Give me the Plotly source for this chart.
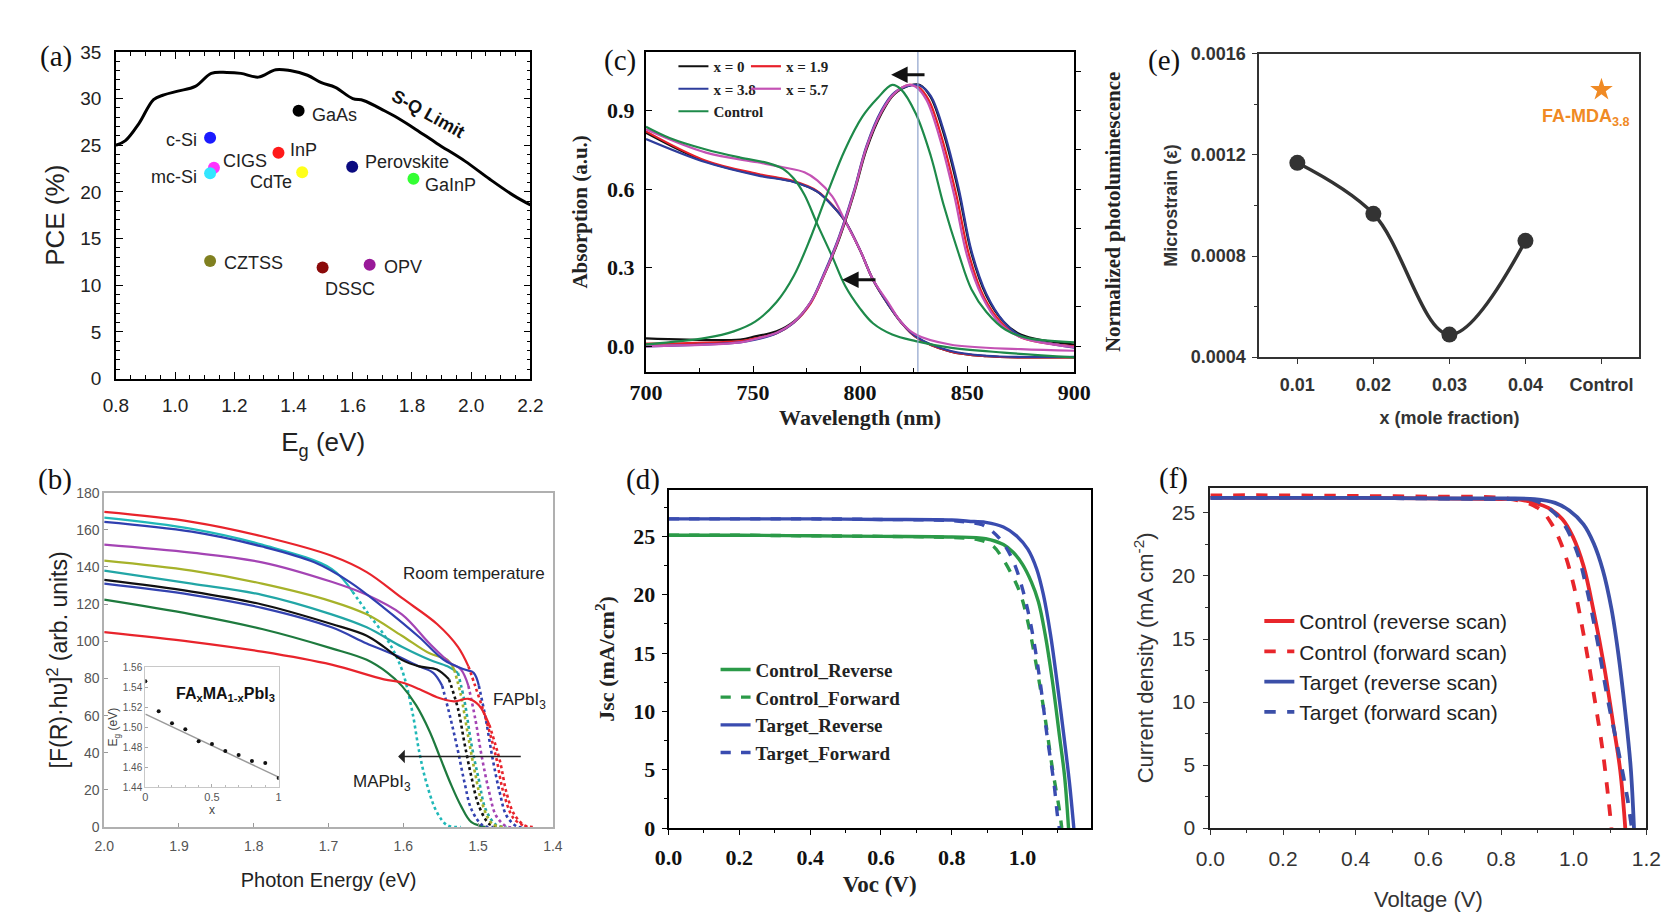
import plotly.graph_objects as go

W, H = 1680, 921

# ---------------- (a) data ----------------
sq_eg = [0.80, 0.832, 0.879, 0.927, 0.962, 1.009, 1.068, 1.122, 1.175, 1.222, 1.281, 1.340, 1.388, 1.447,
         1.494, 1.541, 1.600, 1.636, 1.707, 1.742, 1.813, 1.884, 1.979, 2.061, 2.144, 2.20]
sq_pce = [25.0, 25.5, 27.4, 29.9, 30.4, 30.8, 31.3, 32.7, 32.8, 32.7, 32.3, 33.1, 33.0, 32.5,
          31.7, 31.2, 30.0, 29.8, 28.7, 28.1, 26.7, 25.2, 23.3, 21.4, 19.6, 18.6]
mat_names = ["c-Si", "GaAs", "InP", "CIGS", "mc-Si", "CdTe", "Perovskite", "GaInP", "CZTSS", "DSSC", "OPV"]
mat_eg = [1.118, 1.417, 1.349, 1.131, 1.118, 1.429, 1.598, 1.805, 1.118, 1.498, 1.657]
mat_pce = [25.8, 28.7, 24.2, 22.6, 22.0, 22.1, 22.7, 21.4, 12.6, 11.9, 12.2]
mat_colors = ["#1a1aff", "#000000", "#ff1a1a", "#ff33ff", "#33e6ff", "#ffff1a", "#0a0a80", "#33ff33",
              "#808020", "#8b0a0a", "#991a99"]
# label placement (anchor, xshift, yshift)
mat_lab_pos = [("right", -11, -2), ("left", 11, -4), ("left", 10, 3), ("left", 7, 7), ("right", -11, -4),
               ("right", -8, -10), ("left", 11, 5), ("left", 10, -6), ("left", 12, -2), ("center", 27, -21),
               ("left", 12, -2)]

# ---------------- (b) data ----------------
b_colors = ["#20b8b8", "#1e7a3e", "#3342b0", "#111111", "#22a6a6", "#a6b22a", "#a444b4", "#2f3fb0",
            "#e8242c", "#e8242c"]
b_x1 = [2.0, 1.883, 1.789, 1.696, 1.668, 1.649, 1.621, 1.602, 1.588, 1.579, 1.569, 1.555, 1.541, 1.523]
b_y1 = [166.5, 160.5, 152.0, 139.0, 126.7, 116.0, 100.5, 84.8, 62.0, 41.0, 23.6, 7.9, 0.9, 0.0]
b_x2 = [2.0, 1.883, 1.789, 1.696, 1.649, 1.621, 1.602, 1.583, 1.565, 1.551, 1.537, 1.523, 1.509, 1.49]
b_y2 = [122.4, 114.5, 106.6, 96.2, 90.0, 83.0, 76.0, 65.6, 51.6, 37.6, 23.6, 11.4, 2.6, 0.0]
b_x3 = [2.0, 1.883, 1.789, 1.696, 1.649, 1.612, 1.579, 1.560, 1.548, 1.537, 1.527, 1.518, 1.509, 1.494, 1.48]
b_y3 = [131.0, 125.0, 118.0, 107.5, 98.8, 92.7, 86.5, 83.0, 76.0, 58.6, 41.0, 23.6, 9.6, 0.9, 0.0]
b_x4 = [2.0, 1.883, 1.789, 1.696, 1.649, 1.626, 1.602, 1.579, 1.555, 1.539, 1.527, 1.518, 1.509, 1.499, 1.485, 1.471]
b_y4 = [133.0, 126.7, 119.8, 109.3, 103.0, 97.0, 90.0, 86.5, 84.8, 79.5, 63.8, 44.6, 27.0, 11.4, 1.7, 0.0]
b_x5 = [2.0, 1.883, 1.789, 1.696, 1.649, 1.602, 1.565, 1.541, 1.527, 1.518, 1.509, 1.499, 1.490, 1.476, 1.462]
b_y5 = [138.0, 131.0, 125.0, 114.5, 107.5, 97.0, 90.0, 86.5, 83.0, 67.3, 44.6, 25.3, 9.6, 1.2, 0.0]
b_x6 = [2.0, 1.883, 1.789, 1.696, 1.649, 1.602, 1.565, 1.541, 1.532, 1.523, 1.513, 1.504, 1.495, 1.481, 1.466]
b_y6 = [143.4, 138.0, 131.0, 121.5, 114.5, 103.0, 93.5, 90.0, 84.8, 70.8, 48.0, 28.8, 13.1, 1.7, 0.0]
b_x7 = [2.0, 1.883, 1.789, 1.696, 1.649, 1.602, 1.565, 1.537, 1.523, 1.513, 1.504, 1.495, 1.485, 1.476, 1.462, 1.452]
b_y7 = [152.0, 147.7, 142.5, 132.0, 125.0, 114.5, 98.8, 88.3, 84.8, 76.0, 58.6, 37.6, 18.4, 6.1, 0.3, 0.0]
b_x8 = [2.0, 1.883, 1.789, 1.719, 1.672, 1.626, 1.579, 1.546, 1.518, 1.506, 1.499, 1.490, 1.481, 1.471, 1.462, 1.448, 1.438]
b_y8 = [164.3, 159.0, 151.0, 142.5, 132.0, 118.0, 102.3, 90.0, 84.8, 83.0, 76.0, 58.6, 37.6, 18.4, 6.1, 0.3, 0.0]
b_x9 = [2.0, 1.883, 1.789, 1.696, 1.649, 1.602, 1.555, 1.527, 1.513, 1.504, 1.490, 1.476, 1.466, 1.452, 1.434]
b_y9 = [169.6, 164.3, 156.5, 146.0, 137.2, 123.3, 109.3, 97.0, 86.5, 76.0, 58.6, 37.6, 18.4, 4.4, 0.0]
b_x10 = [2.0, 1.883, 1.789, 1.696, 1.626, 1.602, 1.579, 1.555, 1.532, 1.513, 1.499, 1.485, 1.471, 1.462, 1.452, 1.438, 1.424]
b_y10 = [104.9, 99.7, 94.4, 87.4, 79.5, 77.8, 74.3, 69.9, 67.7, 69.0, 65.6, 55.0, 35.8, 18.4, 7.0, 0.9, 0.0]
b_x_all = [b_x1, b_x2, b_x3, b_x4, b_x5, b_x6, b_x7, b_x8, b_x9, b_x10]
b_y_all = [b_y1, b_y2, b_y3, b_y4, b_y5, b_y6, b_y7, b_y8, b_y9, b_y10]
b_dot_from = [4, 99, 8, 9, 8, 8, 9, 10, 8, 11]   # index where the dotted drop begins
inset_x = [0.0, 0.1, 0.2, 0.3, 0.4, 0.5, 0.6, 0.7, 0.8, 0.9, 1.0]
inset_eg = [1.546, 1.516, 1.504, 1.498, 1.486, 1.483, 1.476, 1.472, 1.466, 1.464, 1.449]
inset_fit_x = [0.0, 1.0]
inset_fit_y = [1.513, 1.450]

# ---------------- (c) data ----------------
c_names = ["x = 0", "x = 1.9", "x = 3.8", "x = 5.7", "Control"]
c_colors = ["#111111", "#e8202a", "#2e3d9c", "#c452b4", "#1e8a4a"]
c_abs_wl = [[700, 728, 752, 769, 780, 788, 793, 800, 806, 813, 819, 826, 842, 859, 900],
            [700, 728, 752, 769, 780, 788, 793, 800, 806, 813, 819, 826, 842, 859, 900],
            [700, 728, 752, 769, 780, 788, 793, 800, 806, 813, 819, 826, 842, 859, 900],
            [700, 728, 752, 764, 774, 780, 787, 793, 800, 806, 813, 819, 826, 842, 875, 900],
            [700, 711, 728, 744, 757, 764, 769, 774, 780, 787, 793, 800, 806, 815, 826, 842, 867, 900]]
c_abs = [[0.815, 0.705, 0.655, 0.628, 0.590, 0.529, 0.477, 0.366, 0.254, 0.161, 0.093, 0.036, -0.020, -0.038, -0.042],
         [0.820, 0.708, 0.658, 0.630, 0.592, 0.530, 0.478, 0.367, 0.255, 0.162, 0.094, 0.036, -0.020, -0.038, -0.042],
         [0.791, 0.702, 0.652, 0.627, 0.590, 0.528, 0.478, 0.367, 0.255, 0.162, 0.094, 0.038, -0.017, -0.036, -0.040],
         [0.828, 0.739, 0.702, 0.683, 0.664, 0.633, 0.572, 0.478, 0.367, 0.255, 0.169, 0.094, 0.045, 0.007, -0.011, -0.017],
         [0.838, 0.795, 0.751, 0.720, 0.699, 0.677, 0.640, 0.578, 0.466, 0.342, 0.231, 0.144, 0.088, 0.045, 0.020, -0.005, -0.024, -0.042]]
c_pl_wl = [[700, 744, 751, 761, 769, 777, 783, 790, 797, 803, 810, 816, 824, 828, 833, 839, 846, 852, 859, 867, 875, 900],
           [700, 744, 751, 761, 769, 777, 783, 790, 797, 803, 810, 816, 823, 827, 832, 838, 845, 851, 858, 866, 875, 900],
           [700, 744, 751, 761, 769, 777, 783, 790, 797, 803, 810, 816, 825, 828, 833, 839, 846, 852, 859, 867, 875, 900],
           [700, 744, 751, 761, 769, 777, 783, 790, 797, 803, 810, 816, 823, 826, 831, 837, 844, 850, 857, 865, 875, 900],
           [700, 728, 741, 751, 761, 769, 777, 785, 793, 801, 808, 815, 819, 826, 833, 839, 846, 852, 859, 868, 878, 900]]
c_pl = [[0.030, 0.026, 0.038, 0.057, 0.094, 0.169, 0.268, 0.404, 0.578, 0.751, 0.888, 0.962, 0.997, 0.997, 0.950, 0.813, 0.590, 0.355, 0.193, 0.094, 0.045, 0.007],
        [0.010, 0.020, 0.030, 0.050, 0.090, 0.165, 0.270, 0.410, 0.585, 0.760, 0.895, 0.965, 0.997, 0.990, 0.940, 0.800, 0.575, 0.345, 0.185, 0.090, 0.035, 0.000],
        [0.000, 0.015, 0.025, 0.050, 0.090, 0.170, 0.275, 0.415, 0.590, 0.765, 0.900, 0.968, 0.997, 0.995, 0.955, 0.825, 0.605, 0.365, 0.200, 0.095, 0.040, -0.005],
        [0.000, 0.015, 0.028, 0.052, 0.092, 0.170, 0.270, 0.410, 0.585, 0.760, 0.895, 0.965, 0.997, 0.990, 0.940, 0.800, 0.575, 0.345, 0.190, 0.090, 0.035, -0.003],
        [0.007, 0.032, 0.057, 0.094, 0.169, 0.268, 0.417, 0.590, 0.751, 0.875, 0.945, 0.997, 0.981, 0.888, 0.727, 0.540, 0.355, 0.218, 0.131, 0.063, 0.032, 0.015, 0.007]]
c_marker_wl = 827

# ---------------- (d) data ----------------
d_names = ["Control_Reverse", "Control_Forward", "Target_Reverse", "Target_Forward"]
d_v = [[0.0, 0.2, 0.4, 0.6, 0.8, 0.896, 0.946, 0.975, 1.0, 1.025, 1.045, 1.064, 1.084, 1.104, 1.119, 1.13],
       [0.0, 0.2, 0.4, 0.6, 0.8, 0.876, 0.916, 0.946, 0.975, 0.995, 1.015, 1.040, 1.064, 1.084, 1.104, 1.111],
       [0.0, 0.2, 0.4, 0.6, 0.8, 0.847, 0.896, 0.946, 0.985, 1.015, 1.040, 1.059, 1.079, 1.099, 1.119, 1.133, 1.145],
       [0.0, 0.2, 0.4, 0.6, 0.8, 0.847, 0.886, 0.916, 0.946, 0.975, 1.0, 1.025, 1.049, 1.069, 1.089, 1.099, 1.104]]
d_j = [[25.1, 25.1, 25.05, 25.0, 24.95, 24.8, 24.3, 23.6, 22.6, 21.1, 19.4, 16.6, 12.7, 8.0, 4.4, 0.0],
       [25.1, 25.1, 25.05, 25.0, 24.9, 24.7, 24.2, 23.0, 21.4, 20.0, 17.7, 13.8, 9.4, 5.2, 1.6, 0.0],
       [26.5, 26.5, 26.5, 26.45, 26.4, 26.3, 26.2, 25.8, 25.0, 23.9, 22.2, 20.0, 16.6, 12.2, 7.4, 3.8, 0.0],
       [26.5, 26.5, 26.5, 26.45, 26.35, 26.2, 26.0, 25.4, 24.4, 22.8, 20.5, 17.2, 12.7, 8.0, 3.8, 1.0, 0.0]]

# ---------------- (e) data ----------------
e_x = ["0.01", "0.02", "0.03", "0.04"]
e_strain = [0.001169, 0.000967, 0.000489, 0.000860]
e_ctrl_x = ["Control"]
e_ctrl_strain = [0.001458]

# ---------------- (f) data ----------------
f_names = ["Control (reverse scan)", "Control (forward scan)", "Target (reverse scan)", "Target (forward scan)"]
f_v = [[0.0, 0.2, 0.4, 0.6, 0.8, 0.843, 0.892, 0.930, 0.969, 0.998, 1.027, 1.055, 1.084, 1.108, 1.128, 1.142],
       [0.0, 0.2, 0.4, 0.6, 0.8, 0.872, 0.911, 0.940, 0.969, 0.998, 1.027, 1.055, 1.080, 1.096, 1.104],
       [0.0, 0.2, 0.4, 0.6, 0.8, 0.892, 0.949, 0.988, 1.027, 1.055, 1.080, 1.104, 1.123, 1.142, 1.157, 1.166],
       [0.0, 0.2, 0.4, 0.6, 0.8, 0.892, 0.930, 0.969, 1.007, 1.036, 1.065, 1.094, 1.123, 1.147, 1.160]]
f_j = [[26.2, 26.2, 26.2, 26.15, 26.1, 26.1, 25.8, 25.4, 24.5, 23.1, 20.8, 17.2, 12.8, 8.4, 4.6, 0.0],
       [26.4, 26.4, 26.35, 26.3, 26.2, 25.8, 25.2, 24.1, 22.3, 19.5, 15.4, 10.7, 6.1, 2.2, 0.0],
       [26.2, 26.2, 26.2, 26.15, 26.15, 26.1, 25.8, 25.2, 24.1, 22.6, 20.5, 17.4, 13.8, 9.2, 4.8, 0.0],
       [26.2, 26.2, 26.2, 26.15, 26.1, 26.0, 25.4, 24.3, 22.1, 19.0, 14.9, 10.2, 6.1, 2.5, 0.0]]


def xd(a, b):
    return [a / W, b / W]


def yd(top, bottom):
    return [1 - bottom / H, 1 - top / H]


fig = go.Figure()

SANS = "Liberation Sans, Arial, sans-serif"
SERIF = "Liberation Serif, Times New Roman, serif"

# ---- (a) ----
fig.add_trace(go.Scatter(x=sq_eg, y=sq_pce, mode="lines", line=dict(color="black", width=3),
                         xaxis="x", yaxis="y", showlegend=False, line_shape="spline"))
fig.add_trace(go.Scatter(x=mat_eg, y=mat_pce, mode="markers", marker=dict(color=mat_colors, size=12),
                         xaxis="x", yaxis="y", showlegend=False))

# ---- (b) ----
for i in range(len(b_x_all)):
    xs, ys, k = b_x_all[i], b_y_all[i], b_dot_from[i]
    k = min(k, len(xs))
    fig.add_trace(go.Scatter(x=xs[:k + 1], y=ys[:k + 1], mode="lines", line=dict(color=b_colors[i], width=2.2),
                             xaxis="x2", yaxis="y2", showlegend=False, line_shape="spline"))
    if k < len(xs) - 1:
        fig.add_trace(go.Scatter(x=xs[k:], y=ys[k:], mode="lines",
                                 line=dict(color=b_colors[i], width=2.6, dash="dot"),
                                 xaxis="x2", yaxis="y2", showlegend=False, line_shape="spline"))
fig.add_trace(go.Scatter(x=inset_fit_x, y=inset_fit_y, mode="lines", line=dict(color="#9a9a9a", width=1.5),
                         xaxis="x7", yaxis="y7", showlegend=False))
fig.add_trace(go.Scatter(x=inset_x, y=inset_eg, mode="markers", marker=dict(color="#111", size=4),
                         xaxis="x7", yaxis="y7", showlegend=False))

# ---- (c) ----  absorption on left axis, photoluminescence on right axis
for i in range(5):
    leg = "legend" if i in (0, 2, 4) else "legend2"
    fig.add_trace(go.Scatter(x=c_abs_wl[i], y=c_abs[i], mode="lines", line=dict(color=c_colors[i], width=2.2),
                             xaxis="x3", yaxis="y3", name=c_names[i], legend=leg, line_shape="spline",
                             showlegend=True))
for i in range(5):
    fig.add_trace(go.Scatter(x=c_pl_wl[i], y=c_pl[i], mode="lines", line=dict(color=c_colors[i], width=2.2),
                             xaxis="x3", yaxis="y8", showlegend=False, line_shape="spline"))

# ---- (d) ----
d_colors = ["#2b9a48", "#2b9a48", "#3a4cb0", "#3a4cb0"]
d_dash = ["solid", "dash", "solid", "dash"]
for i in range(4):
    fig.add_trace(go.Scatter(x=d_v[i], y=d_j[i], mode="lines",
                             line=dict(color=d_colors[i], width=3.4, dash=d_dash[i]),
                             xaxis="x4", yaxis="y4", name=d_names[i], legend="legend3", line_shape="spline"))

# ---- (e) ----
fig.add_trace(go.Scatter(x=e_x, y=e_strain, mode="lines+markers", line=dict(color="#333333", width=3.5, shape="spline"),
                         marker=dict(color="#333333", size=16), xaxis="x5", yaxis="y5", showlegend=False))
fig.add_trace(go.Scatter(x=e_ctrl_x, y=e_ctrl_strain, mode="markers",
                         marker=dict(color="#f08a24", size=17, symbol="star"),
                         xaxis="x5", yaxis="y5", showlegend=False))

# ---- (f) ----
f_colors = ["#e8262b", "#e8262b", "#3b4fa8", "#3b4fa8"]
f_dash = ["solid", "dash", "solid", "dash"]
for i in range(4):
    fig.add_trace(go.Scatter(x=f_v[i], y=f_j[i], mode="lines",
                             line=dict(color=f_colors[i], width=3.8, dash=f_dash[i]),
                             xaxis="x6", yaxis="y6", name=f_names[i], legend="legend4", line_shape="spline"))

ann = []
# (a) labels
for n, xv, yv, pos in zip(mat_names, mat_eg, mat_pce, mat_lab_pos):
    ann.append(dict(x=xv, y=yv, xref="x", yref="y", text=n, showarrow=False, xanchor=pos[0],
                    xshift=pos[1], yshift=pos[2], font=dict(family=SANS, size=18, color="#222")))
ann.append(dict(x=1.855, y=28.3, xref="x", yref="y", text="<b>S-Q Limit</b>", showarrow=False, textangle=29,
                font=dict(family=SANS, size=18, color="#111")))
# (b) texts
ann += [
    dict(x=1.506, y=136.3, xref="x2", yref="y2", text="Room temperature", showarrow=False,
         font=dict(family=SANS, size=17, color="#222")),
    dict(x=1.445, y=68, xref="x2", yref="y2", text="FAPbI<sub>3</sub>", showarrow=False,
         font=dict(family=SANS, size=17, color="#222")),
    dict(x=1.628, y=23.6, xref="x2", yref="y2", text="MAPbI<sub>3</sub>", showarrow=False,
         font=dict(family=SANS, size=17, color="#222")),
    dict(x=1.607, y=38, ax=1.441, ay=38, xref="x2", yref="y2", axref="x2", ayref="y2", text="",
         showarrow=True, arrowhead=1, arrowsize=1.6, arrowwidth=1.4, arrowcolor="#222"),
    dict(x=212.5 / W, y=1 - 702 / H, xref="paper", yref="paper",
         text="<b>FA<sub>x</sub>MA<sub>1-x</sub>PbI<sub>3</sub></b>",
         showarrow=False, xanchor="center", yanchor="middle", font=dict(family=SANS, size=16, color="#111")),
]
# (c) arrows
ann += [
    dict(x=814.5, y=1.036, ax=830.8, ay=1.036, xref="x3", yref="y3", axref="x3", ayref="y3", text="",
         showarrow=True, arrowhead=2, arrowsize=1.1, arrowwidth=3, arrowcolor="#111"),
    dict(x=791.6, y=0.254, ax=807.9, ay=0.254, xref="x3", yref="y3", axref="x3", ayref="y3", text="",
         showarrow=True, arrowhead=2, arrowsize=1.1, arrowwidth=3, arrowcolor="#111"),
]
# (e) text
ann.append(dict(x="Control", y=0.00135, xref="x5", yref="y5", text="<b>FA-MDA<sub>3.8</sub></b>",
                showarrow=False, xanchor="center", xshift=-15,
                font=dict(family=SANS, size=18, color="#f08a24")))
# panel letters
for lab, cx, cy in [("(a)", 40, 48), ("(b)", 39, 482), ("(c)", 615, 52), ("(d)", 639, 482),
                    ("(e)", 1171, 52), ("(f)", 1180, 481)]:
    ann.append(dict(x=cx / W, y=1 - cy / H, xref="paper", yref="paper", text=lab, showarrow=False,
                    xanchor="center", yanchor="middle",
                    font=dict(family=SERIF, size=29, color="#111")))

shapes = [dict(type="line", xref="x3", yref="y3 domain", x0=c_marker_wl, x1=c_marker_wl, y0=0, y1=1,
               line=dict(color="#8ea2cc", width=1.2))]


def box(color="black", width=1.5):
    return dict(showline=True, linecolor=color, linewidth=width, mirror=True, zeroline=False, showgrid=False)


layout = dict(
    width=W, height=H, margin=dict(l=0, r=0, t=0, b=0), paper_bgcolor="white", plot_bgcolor="white",
    annotations=ann, shapes=shapes,
    # (a)
    xaxis=dict(domain=xd(101, 524), range=[0.8, 2.2], anchor="y", dtick=0.2, tickformat=".1f",
               ticks="inside", ticklen=7, tickcolor="black", ticklabelstandoff=9,
               minor=dict(dtick=0.05, ticks="inside", ticklen=4, tickcolor="black"),
               tickfont=dict(family=SANS, size=19, color="#222"),
               title=dict(text="E<sub>g</sub> (eV)", font=dict(family=SANS, size=26, color="#222"), standoff=18),
               **{**box(), "mirror": "allticks"}),
    yaxis=dict(domain=yd(43, 378), range=[0, 35], anchor="x", dtick=5, ticks="inside", ticklen=7, tickcolor="black",
               ticklabelstandoff=9,
               minor=dict(dtick=1, ticks="inside", ticklen=4, tickcolor="black"),
               tickfont=dict(family=SANS, size=19, color="#222"),
               title=dict(text="PCE (%)", font=dict(family=SANS, size=26, color="#222"), standoff=8),
               **{**box(), "mirror": "allticks"}),
    # (b)
    xaxis2=dict(domain=xd(89, 547), range=[2.0, 1.4], anchor="y2", dtick=0.1, tickformat=".1f",
                ticks="inside", ticklen=4, tickcolor="#999", ticklabelstandoff=5,
                tickfont=dict(family=SANS, size=14, color="#555"),
                title=dict(text="Photon Energy (eV)", font=dict(family=SANS, size=20, color="#222"), standoff=20),
                **box("#b0b0b0", 1.5)),
    yaxis2=dict(domain=yd(495, 838), range=[0, 180], anchor="x2", dtick=20, ticks="inside", ticklen=4,
                tickcolor="#999", tickfont=dict(family=SANS, size=14, color="#555"),
                title=dict(text="[F(R)·hυ]<sup>2</sup> (arb. units)", font=dict(family=SANS, size=23, color="#222"),
                           standoff=2),
                **box("#b0b0b0", 1.5)),
    xaxis7=dict(domain=xd(131, 267), range=[0, 1], anchor="y7", tickvals=[0, 0.5, 1], ticktext=["0", "0.5", "1"],
                ticks="inside", ticklen=3, tickcolor="#aaa",
                minor=dict(dtick=0.1, ticks="inside", ticklen=2, tickcolor="#bbb"),
                tickfont=dict(family=SANS, size=11, color="#555"),
                title=dict(text="x", font=dict(family=SANS, size=12, color="#444"), standoff=2),
                **box("#c8c8c8", 1.2)),
    yaxis7=dict(domain=yd(674, 797), range=[1.44, 1.56], anchor="x7", dtick=0.02, tickformat=".2f",
                ticks="inside", ticklen=3, tickcolor="#aaa",
                tickfont=dict(family=SANS, size=10, color="#555"),
                title=dict(text="E<sub>g</sub> (eV)", font=dict(family=SANS, size=12, color="#444"), standoff=2),
                **box("#c8c8c8", 1.2)),
    # (c)
    xaxis3=dict(domain=xd(642, 1079), range=[700, 900], anchor="y3", dtick=50, ticks="inside", ticklen=6,
                tickcolor="black", ticklabelstandoff=0,
                minor=dict(dtick=25, ticks="inside", ticklen=4, tickcolor="black"),
                tickfont=dict(family=SERIF, size=22, color="#111", weight="bold"),
                title=dict(text="<b>Wavelength (nm)</b>", font=dict(family=SERIF, size=22, color="#222"), standoff=2),
                **box("black", 2)),
    yaxis3=dict(domain=yd(43, 371), range=[-0.097, 1.123], anchor="x3", tickvals=[0, 0.3, 0.6, 0.9],
                tickformat=".1f", ticks="inside", ticklen=6, tickcolor="black", ticklabelstandoff=5,
                tickfont=dict(family=SERIF, size=22, color="#111", weight="bold"),
                title=dict(text="<b>Absorption (a.u.)</b>", font=dict(family=SERIF, size=21, color="#222"), standoff=14),
                **box("black", 2)),
    yaxis8=dict(domain=yd(43, 371), range=[-0.097, 1.123], anchor="x3", overlaying="y3", side="right",
                tickvals=[0, 0.15, 0.3, 0.45, 0.6, 0.75, 0.9, 1.05], showticklabels=False, ticks="outside",
                ticklen=6, tickcolor="black", showgrid=False, zeroline=False, showline=False,
                title=dict(text="<b>Normalized photoluminescence</b>", font=dict(family=SERIF, size=21, color="#222"),
                           standoff=25)),
    # (d)
    xaxis4=dict(domain=xd(665, 1096), range=[0, 1.193], anchor="y4", dtick=0.2, tickformat=".1f",
                ticks="outside", ticklen=5, tickcolor="black", ticklabelstandoff=4,
                minor=dict(dtick=0.1, ticks="outside", ticklen=3, tickcolor="black"),
                tickfont=dict(family=SERIF, size=22, color="#111", weight="bold"),
                title=dict(text="<b>Voc (V)</b>", font=dict(family=SERIF, size=23, color="#222"), standoff=6),
                **box("black", 2)),
    yaxis4=dict(domain=yd(492, 839), range=[0, 29], anchor="x4", dtick=5, ticks="outside", ticklen=5,
                tickcolor="black", ticklabelstandoff=2,
                minor=dict(dtick=2.5, ticks="outside", ticklen=3, tickcolor="black"),
                tickfont=dict(family=SERIF, size=22, color="#111", weight="bold"),
                title=dict(text="<b>Jsc (mA/cm<sup>2</sup>)</b>", font=dict(family=SERIF, size=22, color="#222"),
                           standoff=12),
                **box("black", 2)),
    # (e)
    xaxis5=dict(domain=xd(1268, 1656), type="category", categoryarray=["0.01", "0.02", "0.03", "0.04", "Control"],
                categoryorder="array", range=[-0.5, 4.5], anchor="y5", ticks="outside", ticklen=5,
                tickcolor="#333", ticklabelstandoff=5,
                tickfont=dict(family=SANS, size=18, color="#333", weight="bold"),
                title=dict(text="<b>x (mole fraction)</b>", font=dict(family=SANS, size=18, color="#333"), standoff=18),
                **box("#333", 2)),
    yaxis5=dict(domain=yd(45, 356), range=[0.0004, 0.0016], anchor="x5", dtick=0.0004, tickformat=".4f",
                ticks="outside", ticklen=5, tickcolor="#333", ticklabelstandoff=3,
                minor=dict(dtick=0.0002, ticks="outside", ticklen=3, tickcolor="#333"),
                tickfont=dict(family=SANS, size=18, color="#333", weight="bold"),
                title=dict(text="<b>Microstrain (ε)</b>", font=dict(family=SANS, size=18, color="#333"), standoff=8),
                **box("#333", 2)),
    # (f)
    xaxis6=dict(domain=xd(1218, 1663), range=[0, 1.2], anchor="y6", dtick=0.2, tickformat=".1f",
                ticks="outside", ticklen=5, tickcolor="#333", ticklabelstandoff=6,
                minor=dict(dtick=0.1, ticks="outside", ticklen=3, tickcolor="#333"),
                tickfont=dict(family=SANS, size=21, color="#333"),
                title=dict(text="Voltage (V)", font=dict(family=SANS, size=22, color="#333"), standoff=22),
                **box("#222", 2)),
    yaxis6=dict(domain=yd(490, 839), range=[0, 27], anchor="x6", dtick=5, ticks="outside", ticklen=5,
                tickcolor="#333", ticklabelstandoff=4,
                minor=dict(dtick=2.5, ticks="outside", ticklen=3, tickcolor="#333"),
                tickfont=dict(family=SANS, size=21, color="#333"),
                title=dict(text="Current density (mA cm<sup>-2</sup>)", font=dict(family=SANS, size=22, color="#333"),
                           standoff=12),
                **box("#222", 2)),
    legend=dict(x=670 / W, y=1 - 41 / H, xanchor="left", yanchor="top", bgcolor="rgba(0,0,0,0)",
                font=dict(family=SERIF, size=15, color="#222", weight="bold"), tracegroupgap=0),
    legend2=dict(x=744 / W, y=1 - 41 / H, xanchor="left", yanchor="top", bgcolor="rgba(0,0,0,0)",
                 font=dict(family=SERIF, size=15, color="#222", weight="bold"), tracegroupgap=0),
    legend3=dict(x=713 / W, y=1 - 657 / H, xanchor="left", yanchor="top", bgcolor="rgba(0,0,0,0)",
                 font=dict(family=SERIF, size=19, color="#222", weight="bold"), tracegroupgap=0),
    legend4=dict(x=1268 / W, y=1 - 606 / H, xanchor="left", yanchor="top", bgcolor="rgba(0,0,0,0)",
                 font=dict(family=SANS, size=21, color="#222"), tracegroupgap=0),
)
fig.update_layout(**layout)
fig.write_html("out.html")
